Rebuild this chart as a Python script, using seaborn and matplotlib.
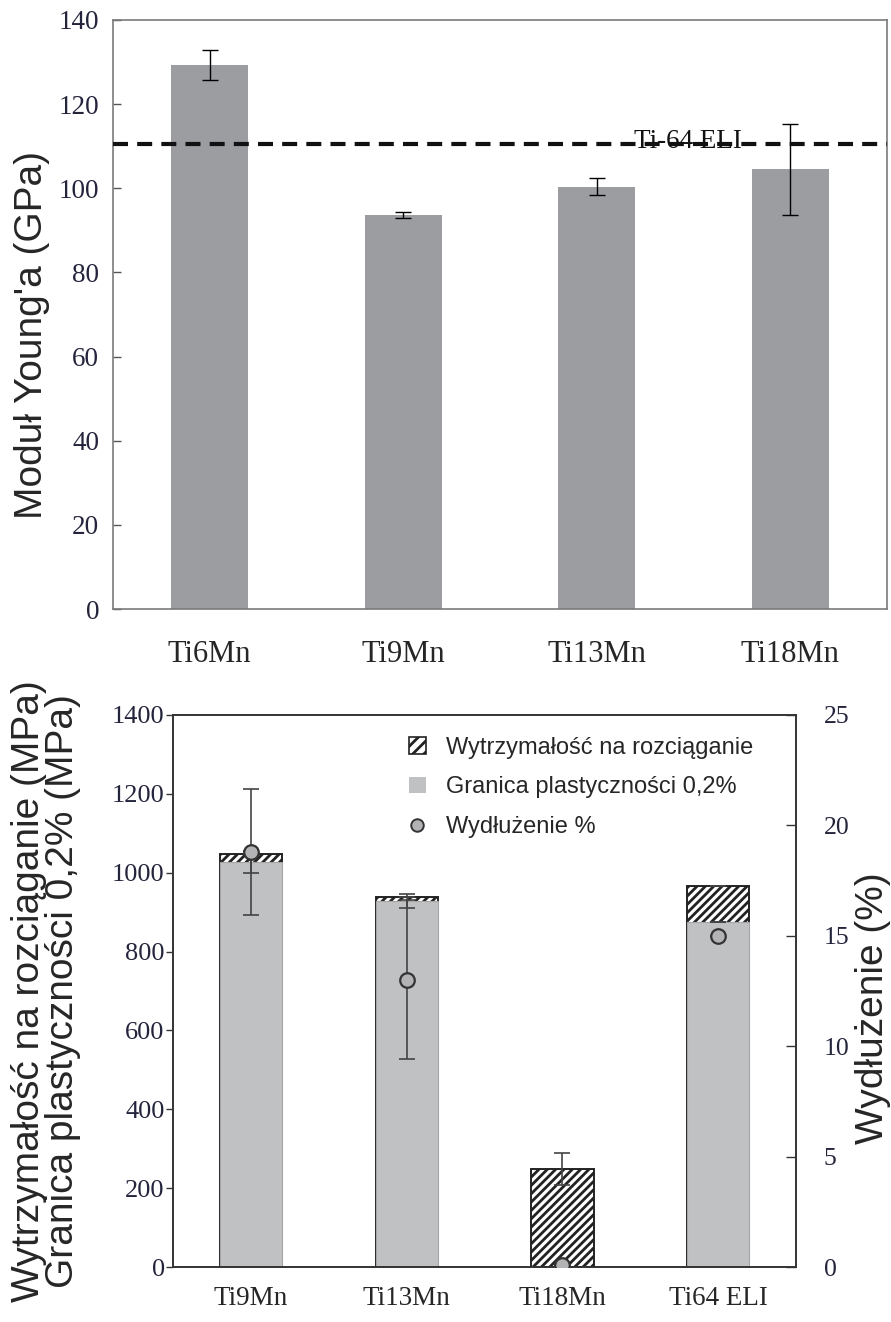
import matplotlib
matplotlib.use('Agg')
import numpy as np
import matplotlib.pyplot as plt
import seaborn as sns
from matplotlib.patches import Patch
from matplotlib.lines import Line2D

# ---------------- data ----------------
alloys_top = ['Ti6Mn', 'Ti9Mn', 'Ti13Mn', 'Ti18Mn']
modulus = [129.3, 93.6, 100.4, 104.5]
modulus_err = [3.6, 0.7, 2.0, 10.8]
ti64_modulus = 110.5
top_yticks = [0, 20, 40, 60, 80, 100, 120, 140]

alloys_bottom = ['Ti9Mn', 'Ti13Mn', 'Ti18Mn', 'Ti64 ELI']
uts = [1048, 939, 248, 967]
uts_err = [0, 0, 40, 0]
yield_str = [1027, 929, 0, 876]
yield_err = [27, 18, 0, 0]
elong = [18.8, 13.0, 0.1, 15.0]
elong_err = [2.85, 3.6, 0, 0]
left_yticks = [0, 200, 400, 600, 800, 1000, 1200, 1400]
right_yticks = [0, 5, 10, 15, 20, 25]

# ---------------- style ----------------
sns.set_style('white')
plt.rcParams['font.family'] = ['Liberation Sans', 'DejaVu Sans']
plt.rcParams['hatch.linewidth'] = 2.0
SERIF = ['Liberation Serif', 'DejaVu Serif']
TICKCOL = '#24243c'

fig = plt.figure(figsize=(8.91, 13.22), dpi=100)

# ================= top panel =================
ax1 = fig.add_axes([0.1268, 0.5393, 0.8687, 0.4456])
sns.barplot(x=alloys_top, y=modulus, color='#9c9da1', saturation=1,
            width=0.4, errorbar=None, ax=ax1, linewidth=0)
ax1.errorbar(alloys_top, modulus, yerr=modulus_err, fmt='none',
             ecolor='black', elinewidth=1, capsize=6, capthick=1, zorder=4)
ax1.axhline(ti64_modulus, color='#111111', lw=3, ls=(0, (3.6, 2.2)), zorder=5)
ax1.text(2.47, ti64_modulus - 0.9, 'Ti-64 ELI', family=SERIF, fontsize=19.5,
         ha='center', va='baseline', color='#111111', zorder=3)
ax1.set_xlim(-0.5, 3.5)
ax1.set_ylim(0, 140)
ax1.set_yticks(top_yticks)
ax1.set_ylabel("Moduł Young'a (GPa)", fontsize=28)
ax1.yaxis.set_label_coords(-0.081, 0.465)
ax1.set_xlabel('')
ax1.tick_params(axis='y', direction='in', length=6, width=1, color='#555555',
                labelsize=19.5, pad=10, labelcolor=TICKCOL, left=True)
ax1.tick_params(axis='x', length=0, labelsize=22, pad=22)
for lab in ax1.get_xticklabels() + ax1.get_yticklabels():
    lab.set_family(SERIF)
for sp in ax1.spines.values():
    sp.set_color('#7a7a7a')
    sp.set_linewidth(1.2)

# ================= bottom panel =================
ax2 = fig.add_axes([0.1942, 0.0416, 0.6992, 0.4176])
sns.barplot(x=alloys_bottom, y=uts, color='white', saturation=1, width=0.4,
            errorbar=None, ax=ax2, edgecolor='#222222', linewidth=1.4, hatch='////')
sns.barplot(x=alloys_bottom, y=yield_str, color='#c0c1c3', saturation=1, width=0.4,
            errorbar=None, ax=ax2, edgecolor='#a5a5a8', linewidth=0.8)
ax2.errorbar(alloys_bottom, yield_str, yerr=yield_err, fmt='none', ecolor='#444444',
             elinewidth=1.2, capsize=6, capthick=1.2, zorder=4)
ax2.errorbar(alloys_bottom, uts, yerr=uts_err, fmt='none', ecolor='#444444',
             elinewidth=1.2, capsize=6, capthick=1.2, zorder=4)
ax2.set_xlim(-0.5, 3.5)
ax2.set_ylim(0, 1400)
ax2.set_yticks(left_yticks)
ax2.set_xlabel('')
ax2.set_ylabel('Wytrzymałość na rozciąganie (MPa)\nGranica plastyczności 0,2% (MPa)',
               fontsize=28, linespacing=0.93)
ax2.yaxis.set_label_coords(-0.147, 0.5)
ax2.tick_params(axis='y', direction='out', length=5, width=1, color='#333333',
                labelsize=19, pad=1, labelcolor=TICKCOL, left=True)
ax2.tick_params(axis='x', length=0, labelsize=19.5, pad=14)
for lab in ax2.get_xticklabels() + ax2.get_yticklabels():
    lab.set_family(SERIF)

ax3 = ax2.twinx()
ax3.errorbar(alloys_bottom, elong, yerr=elong_err, fmt='none', ecolor='#444444',
             elinewidth=1.2, capsize=6, capthick=1.2, zorder=5)
sns.scatterplot(x=alloys_bottom, y=elong, ax=ax3, s=110, color='#b3b3b5',
                edgecolor='#333333', linewidth=1.6, zorder=6, legend=False)
ax3.set_ylim(0, 25)
ax3.set_yticks(right_yticks)
ax3.set_ylabel('Wydłużenie (%)', fontsize=28)
ax3.yaxis.set_label_coords(1.095, 0.469)
ax3.tick_params(axis='y', direction='in', length=7, width=1, color='#333333',
                labelsize=18.5, pad=20, labelcolor=TICKCOL, right=True)
for lab in ax3.get_yticklabels():
    lab.set_family(SERIF)
ax2.set_xlim(-0.5, 3.5)

for ax in (ax2, ax3):
    for sp in ax.spines.values():
        sp.set_color('#333333')
        sp.set_linewidth(1.2)

handles = [
    Patch(facecolor='white', edgecolor='#222222', hatch='///', linewidth=1.2),
    Patch(facecolor='#c0c1c3', edgecolor='none'),
    Line2D([], [], marker='o', ls='none', markersize=9, markerfacecolor='#b3b3b5',
           markeredgecolor='#333333', markeredgewidth=1.4),
]
labels = ['Wytrzymałość na rozciąganie', 'Granica plastyczności 0,2%', 'Wydłużenie %']
leg = ax3.legend(handles, labels, loc='upper left', bbox_to_anchor=(0.36, 0.982),
                 frameon=False, fontsize=17, handlelength=0.7, handleheight=0.7,
                 handletextpad=0.85, labelspacing=0.75, borderpad=0)

fig.savefig('out.png', dpi=100)
